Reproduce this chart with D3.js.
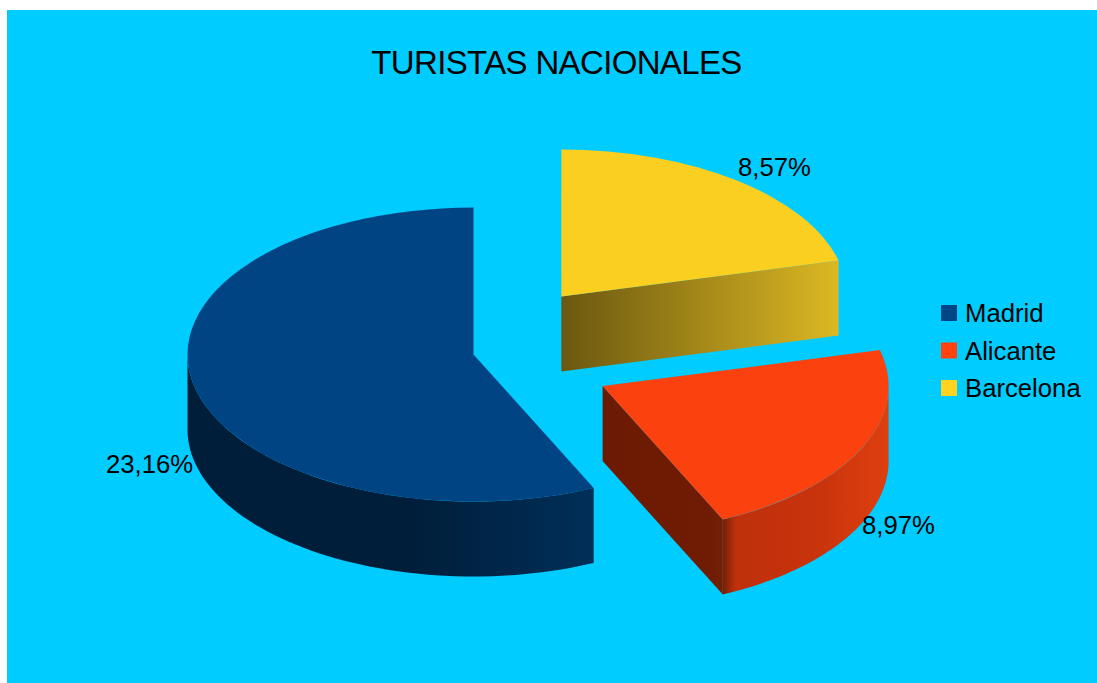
<!DOCTYPE html>
<html lang="en">
<head>
<meta charset="utf-8">
<title>Turistas nacionales</title>
<script src="https://d3js.org/d3.v7.min.js"></script>
<style>
  html, body { margin: 0; padding: 0; background: #fff; overflow: hidden; }
  svg { display: block; }
  text { font-family: "Liberation Sans", sans-serif; fill: #000; }
</style>
</head>
<body>
<svg id="chart" width="1097" height="683"></svg>
<script>
var title = "TURISTAS NACIONALES";
var categories = ["Madrid", "Alicante", "Barcelona"];
var values = [23.16, 8.97, 8.57];
var valueLabels = ["23,16%", "8,97%", "8,57%"];
var explode = [0, 0.5, 0.5];
var colors = ["#004586", "#ff420e", "#ffd320"];

var cx = 473.5, cy = 354.5, rx = 286, ry = 147, depth = 75;
var TAU = Math.PI * 2;

var svg = d3.select("#chart");
var defs = svg.append("defs");

var color = d3.scaleOrdinal().domain(categories).range(colors);

// slices run counter-clockwise from 12 o'clock
var pie = d3.pie().sort(null).startAngle(0).endAngle(-TAU);
var slices = pie(values).map(function(d, i) {
    var lo = d.endAngle + TAU, hi = d.startAngle + TAU;
    var mid = (lo + hi) / 2;
    return {
        name: categories[i], arc: d, lo: lo, hi: hi,
        ox: cx + Math.sin(mid) * rx * explode[i],
        oy: cy - Math.cos(mid) * ry * explode[i]
    };
});

function px(a) { return Math.sin(a) * rx; }
function py(a) { return -Math.cos(a) * ry; }

function gradient(id, x1, x2, stops) {
    var g = defs.append("linearGradient").attr("id", id)
        .attr("gradientUnits", "userSpaceOnUse")
        .attr("x1", x1).attr("x2", x2).attr("y1", 0).attr("y2", 0);
    stops.forEach(function(s) {
        g.append("stop").attr("offset", s[0]).attr("stop-color", s[1]);
    });
    return "url(#" + id + ")";
}

// side shading, in each slice's local x
var wallFill = {
    Madrid: gradient("wall-m", -286, 121, [[0, "#001e3a"], [0.55, "#001e3a"], [1, "#002f59"]]),
    Alicante: gradient("wall-a", 120, 286, [[0, "#742006"], [0.08, "#bf300c"], [0.55, "#c7330c"], [1, "#df3f0f"]]),
    Barcelona: gradient("wall-b", 0, 277, [[0, "#6b5710"], [1, "#dcb823"]])
};
var faceFill = {
    Madrid: "#001e3a",
    Alicante: gradient("face-a", 0, 120, [[0, "#6d1a04"], [0.9, "#701c04"], [1, "#742006"]]),
    Barcelona: wallFill.Barcelona
};

svg.append("rect")
    .attr("x", 7).attr("y", 10)
    .attr("width", 1090).attr("height", 673)
    .attr("fill", "#00ccff");

svg.append("text")
    .attr("x", 556.5).attr("y", 74)
    .attr("text-anchor", "middle")
    .style("font-size", "33px")
    .style("letter-spacing", "-0.65px")
    .text(title);

var line = d3.line().x(function(d) { return d[0]; }).y(function(d) { return d[1]; });
var arc = d3.arc().innerRadius(0).outerRadius(rx);

var g = svg.selectAll("g.slice")
    .data(slices)
    .enter().append("g")
    .attr("class", "slice")
    .attr("transform", function(d) { return "translate(" + d.ox + "," + d.oy + ")"; });

// straight cut face at the clockwise end of the slice
g.append("path")
    .attr("fill", function(d) { return faceFill[d.name]; })
    .attr("d", function(d) {
        var x = px(d.hi), y = py(d.hi);
        return line([[0, 0], [x, y], [x, y + depth], [0, depth]]) + "Z";
    });

// curved outer wall, only where it faces the viewer
g.append("path")
    .attr("fill", function(d) { return wallFill[d.name]; })
    .attr("d", function(d) {
        var a0 = Math.max(d.lo, Math.PI / 2), a1 = Math.min(d.hi, Math.PI * 1.5);
        if (a1 <= a0) return null;
        var angles = d3.range(0, 61).map(function(k) { return a0 + (a1 - a0) * k / 60; });
        var top = angles.map(function(a) { return [px(a), py(a)]; });
        var bottom = angles.slice().reverse().map(function(a) { return [px(a), py(a) + depth]; });
        return line(top.concat(bottom)) + "Z";
    });

// top of the slice: a flat pie squashed to an ellipse
g.append("path")
    .attr("transform", "scale(1," + (ry / rx) + ")")
    .attr("fill", function(d) { return d3.color(color(d.name)).darker(0.05).formatHex(); })
    .attr("d", function(d) { return arc(d.arc); });

// value labels
var labelPos = [[106, 473], [862, 534], [738, 176]];
svg.selectAll("text.value")
    .data(valueLabels)
    .enter().append("text")
    .attr("class", "value")
    .attr("x", function(d, i) { return labelPos[i][0]; })
    .attr("y", function(d, i) { return labelPos[i][1]; })
    .style("font-size", "25.7px")
    .text(function(d) { return d; });

// legend
var legend = svg.selectAll("g.legend")
    .data(categories)
    .enter().append("g")
    .attr("class", "legend")
    .attr("transform", function(d, i) { return "translate(941," + (305 + i * 37.5) + ")"; });

legend.append("rect")
    .attr("width", 16).attr("height", 16)
    .attr("fill", function(d) { return color(d); });

legend.append("text")
    .attr("x", 24).attr("y", 17)
    .style("font-size", "25.7px")
    .text(function(d) { return d; });
</script>
</body>
</html>
